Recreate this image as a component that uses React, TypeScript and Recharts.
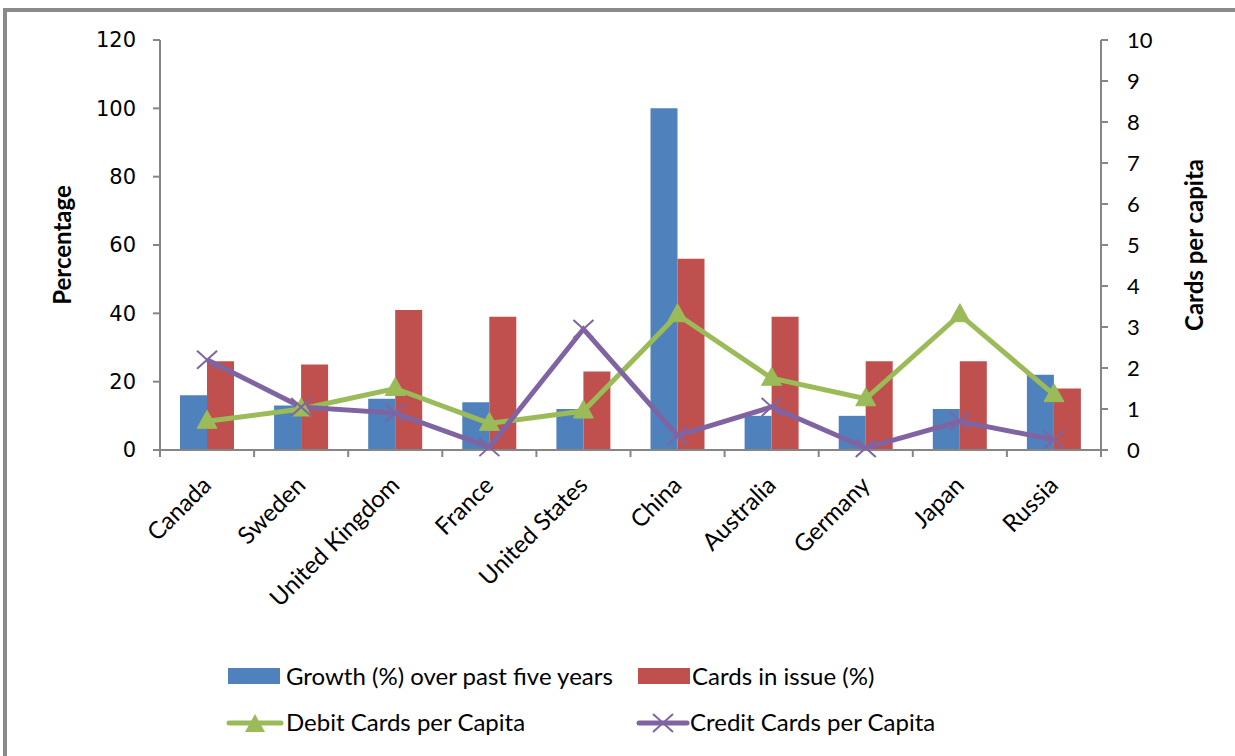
import React from 'react';
import { ComposedChart, Bar, Line, XAxis, YAxis } from 'recharts';

const categories = ['Canada', 'Sweden', 'United Kingdom', 'France', 'United States', 'China', 'Australia', 'Germany', 'Japan', 'Russia'];
const growth = [16, 13, 15, 14, 12, 100, 10, 10, 12, 22];
const cardsInIssue = [26, 25, 41, 39, 23, 56, 39, 26, 26, 18];
const debitPerCapita = [0.7, 1.0, 1.5, 0.65, 0.95, 3.3, 1.75, 1.25, 3.3, 1.35];
const creditPerCapita = [2.2, 1.05, 0.9, 0.07, 2.95, 0.35, 1.05, 0.05, 0.7, 0.25];
const leftTicks = [0, 20, 40, 60, 80, 100, 120];
const rightTicks = [0, 1, 2, 3, 4, 5, 6, 7, 8, 9, 10];

const data = categories.map((c, i) => ({
  name: c,
  growth: growth[i],
  issue: cardsInIssue[i],
  debit: debitPerCapita[i],
  credit: creditPerCapita[i],
}));

const BLUE = '#4F81BD';
const RED = '#C0504D';
const GREEN = '#9BBB59';
const PURPLE = '#8064A2';
const AXIS = '#868686';
const FONT = 'Lato, "Open Sans", sans-serif';

const XTick = (props: any) => {
  const { x, y, payload, index, visibleTicksCount, width } = props;
  const off = payload && payload.offset != null ? payload.offset : width / (visibleTicksCount || 10) / 2;
  const tx = x - 1;
  const ty = y + 30;
  const last = index === (visibleTicksCount || 10) - 1;
  return (
    <g>
      <line x1={x - off} y1={y} x2={x - off} y2={y + 7} stroke={AXIS} strokeWidth={2} />
      {last && <line x1={x + off} y1={y} x2={x + off} y2={y + 7} stroke={AXIS} strokeWidth={2} />}
      <text x={tx} y={ty} transform={`rotate(-45, ${tx}, ${ty})`} textAnchor="end" dominantBaseline="central"
        fontFamily={FONT} fontSize={24} fill="#000">
        {payload.value}
      </text>
    </g>
  );
};

const Triangle = (props: any) => {
  const { cx, cy } = props;
  if (cx == null || cy == null) return null;
  return <path d={`M${cx},${cy - 11} L${cx + 10},${cy + 7} L${cx - 10},${cy + 7} Z`} fill={GREEN} stroke={GREEN} />;
};

const Cross = (props: any) => {
  const { cx, cy } = props;
  if (cx == null || cy == null) return null;
  return (
    <g stroke={PURPLE} strokeWidth={2}>
      <line x1={cx - 10} y1={cy - 9} x2={cx + 10} y2={cy + 9} />
      <line x1={cx - 10} y1={cy + 9} x2={cx + 10} y2={cy - 9} />
    </g>
  );
};

const LeftLabel = (props: any) => {
  const vb = props.viewBox || {};
  const x = (vb.x ?? 30) + 31;
  const y = (vb.y ?? 40) + (vb.height ?? 410) / 2;
  return (
    <text x={x} y={y} transform={`rotate(-90, ${x}, ${y})`} textAnchor="middle" dominantBaseline="central"
      fontFamily={FONT} fontWeight="bold" fontSize={24} fill="#000">Percentage</text>
  );
};

const RightLabel = (props: any) => {
  const vb = props.viewBox || {};
  const x = (vb.x ?? 1101) + 92;
  const y = (vb.y ?? 40) + (vb.height ?? 410) / 2;
  return (
    <text x={x} y={y} transform={`rotate(-90, ${x}, ${y})`} textAnchor="middle" dominantBaseline="central"
      fontFamily={FONT} fontWeight="bold" fontSize={24} fill="#000">Cards per capita</text>
  );
};

const legendText: React.CSSProperties = { fontFamily: FONT, fontSize: 24, color: '#000', whiteSpace: 'nowrap', lineHeight: '30px' };

const LegendBox = () => (
  <div style={{ position: 'absolute', left: 0, top: 0, width: 1235, height: 756, pointerEvents: 'none' }}>
    <div style={{ position: 'absolute', left: 228, top: 661, display: 'flex', alignItems: 'center' }}>
      <div style={{ width: 52, height: 16, background: BLUE, marginRight: 6 }} />
      <span style={legendText}>Growth (%) over past five years</span>
    </div>
    <div style={{ position: 'absolute', left: 638, top: 661, display: 'flex', alignItems: 'center' }}>
      <div style={{ width: 52, height: 16, background: RED, marginRight: 2 }} />
      <span style={legendText}>Cards in issue (%)</span>
    </div>
    <div style={{ position: 'absolute', left: 226, top: 707, display: 'flex', alignItems: 'center' }}>
      <svg width={58} height={30} style={{ marginRight: 2 }}>
        <line x1={3} y1={16} x2={55} y2={16} stroke={GREEN} strokeWidth={5} strokeLinecap="round" />
        <path d="M29,7 L39,25 L19,25 Z" fill={GREEN} />
      </svg>
      <span style={legendText}>Debit Cards per Capita</span>
    </div>
    <div style={{ position: 'absolute', left: 636, top: 707, display: 'flex', alignItems: 'center' }}>
      <svg width={54} height={30} style={{ marginRight: 0 }}>
        <line x1={3} y1={16} x2={51} y2={16} stroke={PURPLE} strokeWidth={5} strokeLinecap="round" />
        <line x1={17} y1={7} x2={37} y2={25} stroke={PURPLE} strokeWidth={2} />
        <line x1={17} y1={25} x2={37} y2={7} stroke={PURPLE} strokeWidth={2} />
      </svg>
      <span style={legendText}>Credit Cards per Capita</span>
    </div>
  </div>
);

export default function App() {
  return (
    <div style={{ position: 'absolute', left: 0, top: 0, width: 1235, height: 756, background: '#fff', overflow: 'hidden' }}>
      <div style={{ position: 'absolute', left: 3, top: 8, width: 1240, height: 760, borderTop: '4px solid #8a8a8a', borderLeft: '4px solid #8a8a8a' }} />
      <div style={{ position: 'absolute', left: 0, top: 0 }}>
        <ComposedChart width={1235} height={756} data={data} barGap={0} barSize={27}
          margin={{ top: 40, right: 34, bottom: 146, left: 30 }}>
          <XAxis xAxisId="cat" dataKey="name" height={160} axisLine={{ stroke: AXIS, strokeWidth: 2 }} tickLine={false}
            tickSize={0} tickMargin={0} tick={<XTick />} interval={0} />
          <YAxis yAxisId="left" orientation="left" domain={[0, 120]} ticks={leftTicks} width={130}
            axisLine={{ stroke: AXIS, strokeWidth: 2 }} tickLine={{ stroke: AXIS, strokeWidth: 2 }} tickSize={7}
            tickMargin={17} tick={{ fontFamily: '"DejaVu Sans", sans-serif', fontSize: 21, fill: '#000' }}
            label={<LeftLabel />} />
          <YAxis yAxisId="right" orientation="right" domain={[0, 10]} ticks={rightTicks} width={100}
            axisLine={{ stroke: AXIS, strokeWidth: 2 }} tickLine={{ stroke: AXIS, strokeWidth: 2 }} tickSize={7}
            tickMargin={19} tick={{ fontFamily: FONT, fontSize: 22, fill: '#000' }}
            label={<RightLabel />} />
          <Bar xAxisId="cat" yAxisId="left" dataKey="growth" fill={BLUE} isAnimationActive={false} />
          <Bar xAxisId="cat" yAxisId="left" dataKey="issue" fill={RED} isAnimationActive={false} />
          <Line xAxisId="cat" yAxisId="right" dataKey="debit" stroke={GREEN} strokeWidth={5}
            dot={<Triangle />} activeDot={false} isAnimationActive={false} />
          <Line xAxisId="cat" yAxisId="right" dataKey="credit" stroke={PURPLE} strokeWidth={5}
            dot={<Cross />} activeDot={false} isAnimationActive={false} />
        </ComposedChart>
      </div>
      <LegendBox />
    </div>
  );
}
